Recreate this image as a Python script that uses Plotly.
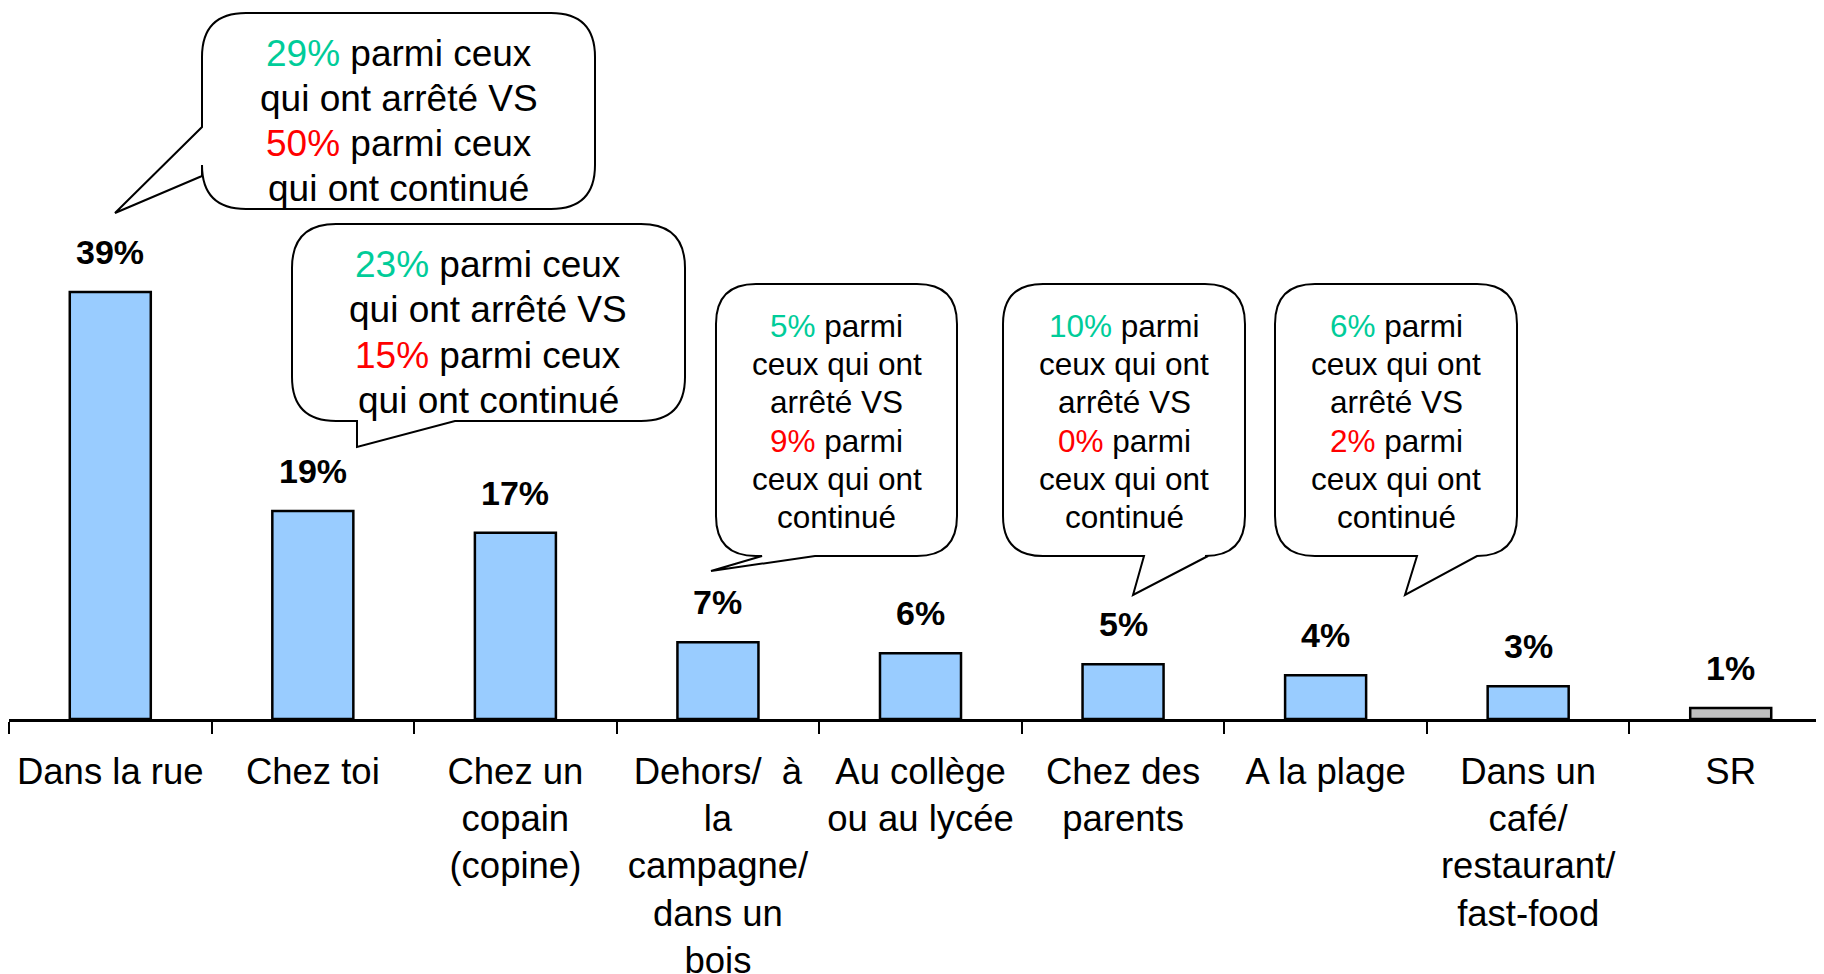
import plotly.graph_objects as go

# ---------------- data ----------------
categories = ["Dans la rue", "Chez toi", "Chez un copain (copine)",
              "Dehors/ à la campagne/ dans un bois", "Au collège ou au lycée",
              "Chez des parents", "A la plage",
              "Dans un café/ restaurant/ fast-food", "SR"]
tick_labels = ["Dans la rue", "Chez toi", "Chez un<br>copain<br>(copine)",
               "Dehors/\u00a0\u00a0à<br>la<br>campagne/<br>dans un<br>bois",
               "Au collège<br>ou au lycée", "Chez des<br>parents", "A la plage",
               "Dans un<br>café/<br>restaurant/<br>fast-food", "SR"]
values = [39, 19, 17, 7, 6, 5, 4, 3, 1]

# callouts: share among those who stopped vs those who continued
callout_cats = ["Dans la rue", "Chez toi", "Dehors/ à la campagne/ dans un bois",
                "Chez des parents", "A la plage"]
pct_stopped = [29, 23, 5, 10, 6]
pct_continued = [50, 15, 9, 0, 2]

GREEN = "#00CC99"
RED = "#FF0000"
BLUE = "#99CCFF"
GREY = "#C0C0C0"
FONT = "Liberation Sans, Arial, sans-serif"

OFF = 8                      # page body margin compensation
W, H = 1824, 974
PAGE_AXIS_Y = 719
PAGE_LEFT = 9
ML, MR, MT = PAGE_LEFT - OFF, 0, 0
AXIS_Y = PAGE_AXIS_Y - OFF   # in figure pixels
MB = H - AXIS_Y
PW, PH = W - ML - MR, AXIS_Y - MT
PX_PER_PCT = 10.95
YMAX = PH / PX_PER_PCT


def px(x):
    """page pixel x -> paper"""
    return (x - OFF - ML) / PW


def py(y):
    """page pixel y -> paper"""
    return (AXIS_Y - (y - OFF)) / PH


bar_colors = [GREY if c == "SR" else BLUE for c in categories]

fig = go.Figure()
fig.add_trace(go.Bar(
    x=categories, y=values, width=0.40,
    marker=dict(color=bar_colors, line=dict(color="black", width=2.5)),
    hoverinfo="skip", showlegend=False))

annotations = []
for c, v in zip(categories, values):
    annotations.append(dict(
        x=c, y=v, xref="x", yref="y", text=f"<b>{v}%</b>", showarrow=False,
        yanchor="bottom", yshift=19,
        font=dict(family=FONT, size=34, color="black")))

# ---------------- speech bubbles ----------------
def bubble_path(x0, y0, x1, y1, r, tail=None):
    pts = []
    pts.append(("M", (x0 + r, y0)))
    pts.append(("L", (x1 - r, y0)))
    pts.append(("Q", (x1, y0), (x1, y0 + r)))
    pts.append(("L", (x1, y1 - r)))
    pts.append(("Q", (x1, y1), (x1 - r, y1)))
    if tail and tail[0] == "bottom":
        _, xa, tip, xb = tail
        pts.append(("L", (xa, y1)))
        pts.append(("L", tip))
        pts.append(("L", (xb, y1)))
    pts.append(("L", (x0 + r, y1)))
    pts.append(("Q", (x0, y1), (x0, y1 - r)))
    if tail and tail[0] == "left":
        _, ya, tip, yb = tail
        pts.append(("L", (x0, yb)))
        pts.append(("L", tip))
        pts.append(("L", (x0, ya)))
    pts.append(("L", (x0, y0 + r)))
    pts.append(("Q", (x0, y0), (x0 + r, y0)))
    s = ""
    for p in pts:
        cmd = p[0]
        coords = " ".join(f"{px(a):.5f},{py(b):.5f}" for a, b in p[1:])
        s += f"{cmd}{coords} "
    return s + "Z"


bubbles = [
    dict(box=(202, 13, 595, 209), r=44, tail=("left", 127, (115, 213), 176),
         lines_y=[54, 99, 144, 189], size=37, wide=True),
    dict(box=(292, 224, 685, 421), r=44, tail=("bottom", 455, (357, 447), 357),
         lines_y=[265, 310, 355, 400], size=37, wide=True),
    dict(box=(716, 284, 957, 556), r=40, tail=("bottom", 815, (711, 571), 762),
         lines_y=[326, 364, 402, 441, 479, 517], size=31.5, wide=False),
    dict(box=(1003, 284, 1245, 556), r=40, tail=("bottom", 1208, (1133, 595), 1144),
         lines_y=[326, 364, 402, 441, 479, 517], size=31.5, wide=False),
    dict(box=(1275, 284, 1517, 556), r=40, tail=("bottom", 1477, (1405, 595), 1417),
         lines_y=[326, 364, 402, 441, 479, 517], size=31.5, wide=False),
]

shapes = []
for b, s_pct, c_pct in zip(bubbles, pct_stopped, pct_continued):
    x0, y0, x1, y1 = b["box"]
    shapes.append(dict(type="path", xref="paper", yref="paper",
                       path=bubble_path(x0, y0, x1, y1, b["r"], b["tail"]),
                       line=dict(color="black", width=2), fillcolor="white"))
    g = f'<span style="color:{GREEN}">{s_pct}%</span>'
    rd = f'<span style="color:{RED}">{c_pct}%</span>'
    if b["wide"]:
        lines = [f"{g} parmi ceux", "qui ont arrêté VS",
                 f"{rd} parmi ceux", "qui ont continué"]
    else:
        lines = [f"{g} parmi", "ceux qui ont", "arrêté VS",
                 f"{rd} parmi", "ceux qui ont", "continué"]
    cx = (x0 + x1) / 2
    for ly, t in zip(b["lines_y"], lines):
        annotations.append(dict(
            x=px(cx), y=py(ly), xref="paper", yref="paper", text=t,
            showarrow=False, xanchor="center", yanchor="middle",
            font=dict(family=FONT, size=b["size"], color="black")))

fig.update_layout(
    width=W, height=H,
    margin=dict(l=ML, r=MR, t=MT, b=MB, pad=0),
    paper_bgcolor="white", plot_bgcolor="white",
    bargap=0.6,
    shapes=shapes, annotations=annotations,
    font=dict(family=FONT, color="black"),
    xaxis=dict(
        type="category",
        range=[-0.5, len(categories) - 0.5],
        tickmode="array", tickvals=categories, ticktext=tick_labels,
        tickson="boundaries",
        ticks="outside", ticklen=12, tickwidth=2, tickcolor="black",
        showline=True, linecolor="black", linewidth=2.5,
        showgrid=False, zeroline=False,
        tickfont=dict(family=FONT, size=36.5, color="black"),
        ticklabelstandoff=18,
    ),
    yaxis=dict(range=[0, YMAX], visible=False, showgrid=False, zeroline=False),
)

fig.write_html("out.html")
